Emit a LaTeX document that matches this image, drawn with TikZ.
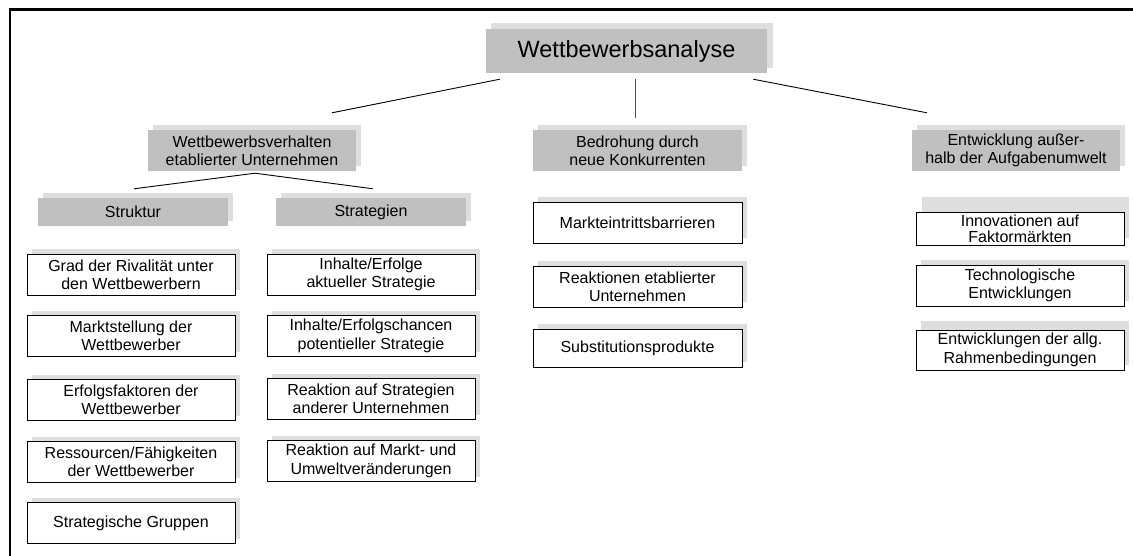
\documentclass[tikz,border=0pt]{standalone}
\usepackage{fontspec}
\setmainfont{Liberation Sans}
\usetikzlibrary{shadows,calc}
\definecolor{boxgray}{HTML}{C0C0C0}
\definecolor{shadegray}{HTML}{DEDEDE}
\newcommand{\txtfont}{\fontsize{16}{18.4}\selectfont}
\newcommand{\tighttxtfont}{\fontsize{16}{16.5}\selectfont}
\newcommand{\titlefont}{\fontsize{23.5}{27}\selectfont}
\tikzset{
  boxshade/.style={general shadow={fill=shadegray, shadow xshift=5pt, shadow yshift=5pt}},
  hdr/.style={boxshade, fill=boxgray, minimum width=208pt, minimum height=41pt,
    inner sep=0pt, align=center, font=\txtfont},
  subhdr/.style={hdr, minimum width=190pt, minimum height=28pt},
  item/.style={boxshade, draw=black, line width=1pt, fill=white, minimum width=208pt,
    minimum height=41pt, inner sep=0pt, align=center, font=\txtfont},
  link/.style={draw=black, line width=0.9pt},
}
\begin{document}
\begin{tikzpicture}[x=1pt, y=-1pt]
  \useasboundingbox (0,0) rectangle (1133,555);
  % outer frame, open towards the right and bottom
  \draw[line width=2.6pt] (10,560) -- (10,9.5) -- (1140,9.5);

  % root
  \node[hdr, font=\titlefont, minimum width=281pt, minimum height=44pt,
        general shadow={fill=shadegray, shadow xshift=6pt, shadow yshift=6pt}]
        (root) at (626.5,51) {Wettbewerbsanalyse};

  % second level
  \node[hdr] (wv) at (252,150.5) {Wettbewerbsverhalten\\etablierter Unternehmen};
  \node[hdr, minimum width=209pt] (bd) at (637.5,150.5) {Bedrohung durch\\neue Konkurrenten};
  \node[hdr] (ew) at (1016,150.5) {Entwicklung außer-\\halb der Aufgabenumwelt};

  % third level
  \node[subhdr] (st) at (133,212) {Struktur};
  \node[subhdr] (sg) at (371,212) {Strategien};

  % column: Struktur
  \node[item] (s1) at (131,274.5) {Grad der Rivalität unter\\den Wettbewerbern};
  \node[item] (s2) at (131,336) {Marktstellung der\\Wettbewerber};
  \node[item] (s3) at (131,400) {Erfolgsfaktoren der\\Wettbewerber};
  \node[item] (s4) at (131,462) {Ressourcen/Fähigkeiten\\der Wettbewerber};
  \node[item] (s5) at (131,523) {Strategische Gruppen};

  % column: Strategien
  \node[item] (g1) at (371,274.5) {Inhalte/Erfolge\\aktueller Strategie};
  \node[item] (g2) at (371,336) {Inhalte/Erfolgschancen\\potentieller Strategie};
  \node[item] (g3) at (371,399) {Reaktion auf Strategien\\anderer Unternehmen};
  \node[item] (g4) at (371,461) {Reaktion auf Markt- und\\Umweltveränderungen};

  % column: Bedrohung
  \node[item, minimum width=209pt] (b1) at (637.5,222.5) {Markteintrittsbarrieren};
  \node[item, minimum width=209pt] (b2) at (637.5,286.5) {Reaktionen etablierter\\Unternehmen};
  \node[item, minimum width=209pt, minimum height=38pt] (b3) at (637.5,348) {Substitutionsprodukte};

  % column: Entwicklung
  \fill[shadegray] (922,197) rectangle (1129,238);
  \node[draw=black, line width=1pt, fill=white, minimum width=208pt, minimum height=33pt,
        inner sep=0pt, align=center, font=\tighttxtfont]
        (e1) at (1020,229) {Innovationen auf\\Faktormärkten};
  \node[item] (e2) at (1020,285.5) {Technologische\\Entwicklungen};
  \node[item, minimum height=40pt, general shadow={fill=shadegray, shadow xshift=5pt, shadow yshift=9pt}]
        (e3) at (1020,350) {Entwicklungen der allg.\\Rahmenbedingungen};

  % connectors
  \coordinate (r1) at ($(root.south west)+(14,6)$);
  \coordinate (r2) at ($(root.south)+(8.5,6)$);
  \coordinate (r3) at ($(root.south east)+(-14,6)$);
  \coordinate (w0) at ($(wv.north)+(80,-17)$);
  \coordinate (b0) at ($(bd.north)+(-2.5,-12)$);
  \coordinate (e0) at ($(ew.north)+(-89,-17)$);
  \draw[link] (r1) -- (w0);
  \draw[link, draw=black!70] (r2) -- (b0);
  \draw[link] (r3) -- (e0);

  \coordinate (w1) at ($(wv.south)+(3,2)$);
  \coordinate (st0) at ($(st.north)+(1,-9)$);
  \coordinate (sg0) at ($(sg.north)+(2,-9)$);
  \draw[link] (w1) -- (st0);
  \draw[link] (w1) -- (sg0);
\end{tikzpicture}
\end{document}
